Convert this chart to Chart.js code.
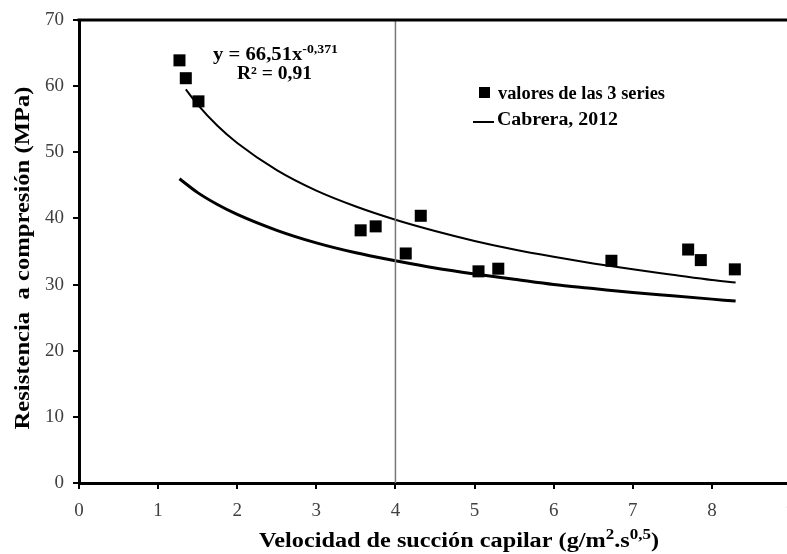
<!DOCTYPE html>
<html>
<head>
<meta charset="utf-8">
<script src="https://cdn.jsdelivr.net/npm/chart.js@4.4.1/dist/chart.umd.min.js"></script>
<style>
  html, body { margin: 0; padding: 0; background: #fff; overflow: hidden; }
  canvas { display: block; }
</style>
</head>
<body>
<canvas id="chart" width="800" height="554"></canvas>
<script>
// measured points (valores de las 3 series)
const seriesX = [1.27, 1.35, 1.51, 3.56, 3.75, 4.13, 4.32, 5.05, 5.30, 6.73, 7.70, 7.86, 8.29];
const seriesY = [63.9, 61.2, 57.7, 38.2, 38.8, 34.7, 40.4, 32.0, 32.4, 33.6, 35.3, 33.7, 32.3];

// potential trend line
const trendX = [1.35, 1.5, 1.75, 2, 2.5, 3, 3.5, 4, 4.5, 5, 5.5, 6, 6.5, 7, 7.5, 8, 8.3];
const trendY = [59.5, 57.2, 54.0, 51.4, 47.3, 44.2, 41.8, 39.8, 38.1, 36.6, 35.3, 34.2, 33.2, 32.3, 31.5, 30.7, 30.3];

// Cabrera, 2012 curve
const cabreraX = [1.27, 1.5, 1.75, 2, 2.5, 3, 3.5, 4, 4.5, 5, 5.5, 6, 6.5, 7, 7.5, 8, 8.3];
const cabreraY = [46.0, 43.9, 42.1, 40.6, 38.2, 36.3, 34.8, 33.6, 32.5, 31.6, 30.8, 30.0, 29.4, 28.8, 28.3, 27.8, 27.5];

// vertical reference at x = 4
const refX = [4, 4];
const refY = [0, 70];

const xTicks = [0, 1, 2, 3, 4, 5, 6, 7, 8, 9];
const yTicks = [0, 10, 20, 30, 40, 50, 60, 70];

const SERIF = '"Liberation Serif", "Times New Roman", serif';

const pts = (xs, ys) => xs.map((x, i) => ({ x, y: ys[i] }));

// width of a run of text pieces (some raised as superscripts)
function richWidth(ctx, parts, size) {
  let w = 0;
  parts.forEach(p => {
    ctx.font = 'bold ' + (p.sup ? Math.round(size * 0.68) : size) + 'px ' + SERIF;
    w += ctx.measureText(p.t).width;
  });
  return w;
}
// draws the run stretched horizontally so it spans `width` px, starting at x
function richFit(ctx, x, y, parts, size, width) {
  const k = width / richWidth(ctx, parts, size);
  ctx.save();
  ctx.translate(x, y);
  ctx.scale(k, 1);
  let cx = 0;
  parts.forEach(p => {
    ctx.font = 'bold ' + (p.sup ? Math.round(size * 0.68) : size) + 'px ' + SERIF;
    ctx.fillText(p.t, cx, p.sup ? -size * 0.38 : 0);
    cx += ctx.measureText(p.t).width;
  });
  ctx.restore();
}

const decorPlugin = {
  id: 'decor',
  afterDraw(chart) {
    const { ctx, chartArea: a } = chart;
    ctx.save();
    ctx.fillStyle = '#000';
    ctx.strokeStyle = '#000';
    ctx.textAlign = 'left';
    ctx.textBaseline = 'alphabetic';

    // top frame line
    ctx.lineWidth = 3;
    ctx.beginPath();
    ctx.moveTo(a.left - 1.5, a.top);
    ctx.lineTo(chart.width, a.top);
    ctx.stroke();

    // equation
    richFit(ctx, 213, 60, [{ t: 'y = 66,51x' }, { t: '-0,371', sup: true }], 18, 125);
    richFit(ctx, 237, 79, [{ t: 'R² = 0,91' }], 18, 75);

    // legend
    ctx.fillRect(479, 87, 11, 11);
    richFit(ctx, 498, 99, [{ t: 'valores de las 3 series' }], 18, 167);
    ctx.lineWidth = 2;
    ctx.beginPath();
    ctx.moveTo(473, 122);
    ctx.lineTo(494, 122);
    ctx.stroke();
    richFit(ctx, 497, 125, [{ t: 'Cabrera, 2012' }], 18, 121);

    // y title
    ctx.save();
    ctx.translate(29, 258);
    ctx.rotate(-Math.PI / 2);
    const yt = [{ t: 'Resistencia  a compresión (MPa)' }];
    richFit(ctx, -343 / 2, 0, yt, 20, 343);
    ctx.restore();

    // x title
    const xt = [{ t: 'Velocidad de succión capilar (g/m' }, { t: '2', sup: true }, { t: '.s' }, { t: '0,5', sup: true }, { t: ')' }];
    richFit(ctx, 259, 547, xt, 20, 400);
    ctx.restore();
  }
};

new Chart(document.getElementById('chart'), {
  type: 'scatter',
  data: {
    datasets: [
      { label: 'ref', data: pts(refX, refY), showLine: true, borderColor: '#777', borderWidth: 1.5, pointRadius: 0 },
      { label: 'Cabrera, 2012', data: pts(cabreraX, cabreraY), showLine: true, borderColor: '#000', borderWidth: 3, pointRadius: 0, cubicInterpolationMode: 'monotone' },
      { label: 'Potencial', data: pts(trendX, trendY), showLine: true, borderColor: '#000', borderWidth: 2, pointRadius: 0, cubicInterpolationMode: 'monotone' },
      { label: 'valores de las 3 series', data: pts(seriesX, seriesY), pointStyle: 'rect', pointRadius: 8.5, pointHoverRadius: 8.5, backgroundColor: '#000', borderColor: '#000', borderWidth: 0 }
    ]
  },
  options: {
    responsive: false,
    animation: false,
    events: [],
    layout: { padding: { top: 20, right: 9, left: 0, bottom: 0 } },
    plugins: { legend: { display: false }, tooltip: { enabled: false } },
    scales: {
      x: {
        type: 'linear', min: 0, max: 9,
        afterBuildTicks: s => { s.ticks = xTicks.map(v => ({ value: v })); },
        afterFit: s => { s.height = 71; s.paddingLeft = 0; s.paddingRight = 0; },
        grid: { drawOnChartArea: false, drawTicks: true, tickLength: 6, color: '#000', lineWidth: 2 },
        border: { display: true, color: '#000', width: 3 },
        ticks: { color: '#404040', padding: 11, font: { family: SERIF, size: 19 }, maxRotation: 0 }
      },
      y: {
        type: 'linear', min: 0, max: 70,
        afterBuildTicks: s => { s.ticks = yTicks.map(v => ({ value: v })); },
        afterFit: s => { s.width = 79; s.paddingTop = 0; s.paddingBottom = 0; },
        grid: { drawOnChartArea: false, drawTicks: true, tickLength: 6, color: '#000', lineWidth: 2 },
        border: { display: true, color: '#000', width: 3 },
        ticks: { color: '#404040', padding: 9, font: { family: SERIF, size: 19 } }
      }
    }
  },
  plugins: [decorPlugin]
});
</script>
</body>
</html>
